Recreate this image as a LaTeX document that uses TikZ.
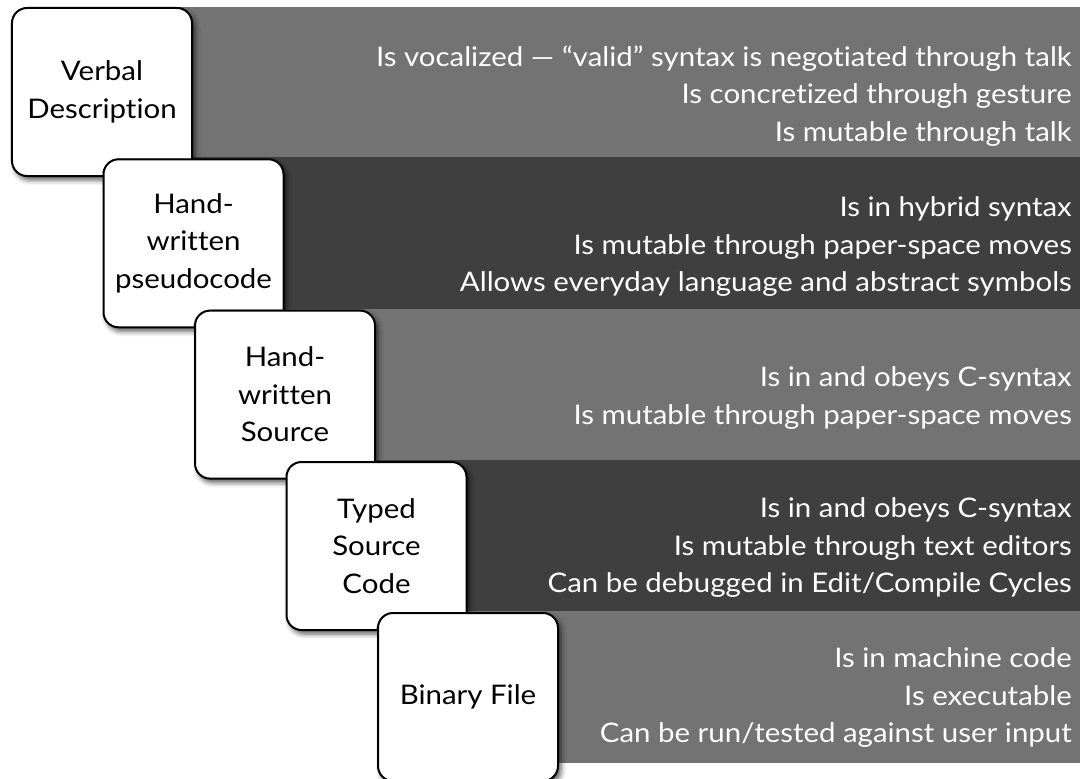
\documentclass[tikz,border=0pt]{standalone}
\usepackage{fontspec}
\setmainfont{Lato}[FakeStretch=1.09, Ligatures={NoCommon}]
\usetikzlibrary{shadows.blur}
\definecolor{bandlight}{HTML}{737373}
\definecolor{banddark}{HTML}{3F3F3F}
\tikzset{
  stage/.style={draw=black, line width=2bp, fill=white, rounded corners=15bp,
    minimum width=180bp, minimum height=168bp, inner sep=0pt, align=center,
    font=\fontsize{27bp}{37.5bp}\selectfont,
    blur shadow={shadow xshift=3bp, shadow yshift=-4bp, shadow blur radius=5bp, shadow opacity=65}},
  traits/.style={anchor=east, align=right, text=white, inner sep=0pt,
    font=\fontsize{27bp}{37.5bp}\selectfont}
}
\begin{document}
\begin{tikzpicture}[x=1bp, y=-1bp]
\useasboundingbox (0,0) rectangle (1085,779);
% alternating bands, one per stage
\fill[bandlight] (40,7)    rectangle (1080,157.3);
\fill[banddark]  (130,157.3) rectangle (1080,308.6);
\fill[bandlight] (220,308.6) rectangle (1080,459.9);
\fill[banddark]  (310,459.9) rectangle (1080,611.2);
\fill[bandlight] (400,611.2) rectangle (1080,762.5);
% properties of each stage
\node[traits] (t1) at (1072,96)  {Is vocalized ---\kern8bp``valid'' syntax is negotiated through talk\\Is concretized through gesture\\Is mutable through talk};
\node[traits] (t2) at (1072,247) {Is in hybrid syntax\\Is mutable through paper-space moves\\Allows everyday language and abstract symbols};
\node[traits] (t3) at (1072,398) {Is in and obeys C-syntax\\Is mutable through paper-space moves};
\node[traits] (t4) at (1072,548) {Is in and obeys C-syntax\\Is mutable through text editors\\Can be debugged in Edit/Compile Cycles};
\node[traits] (t5) at (1072,698) {Is in machine code\\Is executable\\Can be run/tested against user input};
% the stages, each drawn over the previous one
\node[stage] (b1) at (102,92)    {Verbal\\Description};
\node[stage] (b2) at (193.5,243.3) {Hand-\\written\\pseudocode};
\node[stage] (b3) at (285,394.6) {Hand-\\written\\Source};
\node[stage] (b4) at (376.5,546) {Typed\\Source\\Code};
\node[stage] (b5) at (468,697)   {Binary File};
\end{tikzpicture}
\end{document}
